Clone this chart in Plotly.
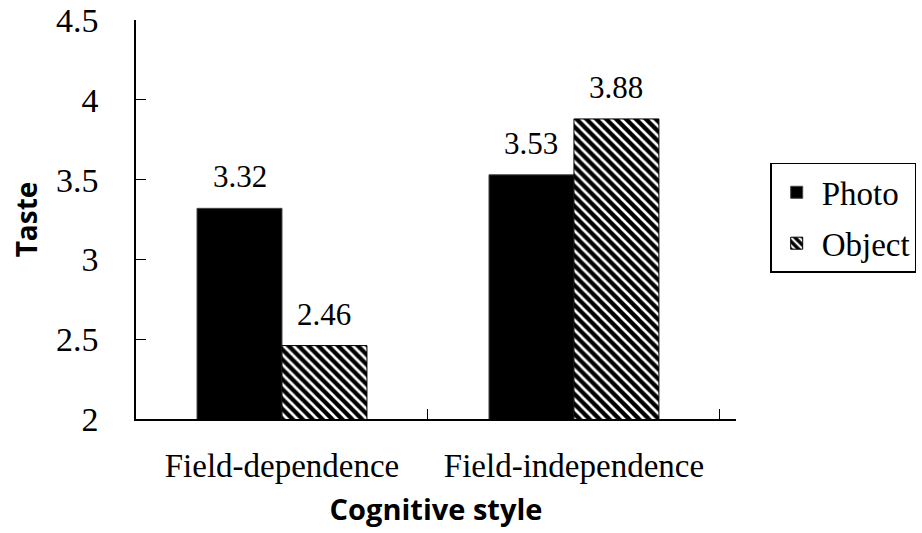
import plotly.graph_objects as go

categories = ["Field-dependence", "Field-independence"]
photo = [3.32, 3.53]
object_vals = [2.46, 3.88]
y_ticks = [2, 2.5, 3, 3.5, 4, 4.5]
y_tick_labels = ["2", "2.5", "3", "3.5", "4", "4.5"]

serif = "Liberation Serif, Times New Roman, serif"
sans = "Open Sans, Noto Sans, sans-serif"

BARGAP = 0.418
half = (1 - BARGAP) / 4  # centre offset of each bar within a group (data units)

fig = go.Figure()
fig.add_trace(go.Bar(
    name="Photo", x=categories, y=photo, legendgroup="photo",
    marker=dict(color="black", line=dict(color="#444", width=1)),
))
fig.add_trace(go.Bar(
    name="Object", x=categories, y=object_vals, legendgroup="object",
    marker=dict(color="black", line=dict(color="black", width=1),
                pattern=dict(shape="\\", fgcolor="white", bgcolor="black",
                             fgopacity=1, size=7, solidity=0.38)),
))

# value labels above bars, positioned through the axes
for series, sign in ((photo, -1), (object_vals, 1)):
    for i, v in enumerate(series):
        fig.add_annotation(
            x=i + sign * half, y=v, xref="x", yref="y",
            text=f"{v:.2f}", showarrow=False, yanchor="bottom", yshift=12,
            font=dict(family=serif, size=31, color="black"),
        )

fig.update_layout(
    width=922, height=533,
    margin=dict(l=136, r=186, t=20, b=114, autoexpand=False),
    paper_bgcolor="white", plot_bgcolor="white",
    barmode="group", bargap=BARGAP, bargroupgap=0,
    showlegend=True,
    legend=dict(x=1.057, y=0.642, xanchor="left", yanchor="top",
                bordercolor="black", borderwidth=1.5,
                font=dict(family=serif, size=33, color="black"),
                tracegroupgap=5, itemwidth=40),
    xaxis=dict(
        range=[-0.5, 1.555], automargin=False,
        showline=True, linecolor="black", linewidth=1.5,
        ticks="inside", ticklen=10, tickcolor="black", tickson="boundaries",
        tickfont=dict(family=serif, size=33, color="black"),
        ticklabelstandoff=17,
        title=dict(text="<b>Cognitive style</b>", font=dict(family=sans, size=29, color="black"), standoff=16),
        showgrid=False,
    ),
    yaxis=dict(
        range=[2, 4.5], tickvals=y_ticks, ticktext=y_tick_labels, automargin=False,
        showline=True, linecolor="black", linewidth=1.5,
        ticks="inside", ticklen=10, tickcolor="black",
        tickfont=dict(family=serif, size=34, color="black"),
        ticklabelstandoff=29, ticklabeloverflow="allow",
        title=dict(text="<b>Taste</b>", font=dict(family=sans, size=28, color="black"), standoff=10),
        showgrid=False, zeroline=False,
    ),
)

fig.write_html("out.html",
               config={"displayModeBar": False},
               post_script="document.body.style.margin='0px';document.body.style.padding='0px';")
